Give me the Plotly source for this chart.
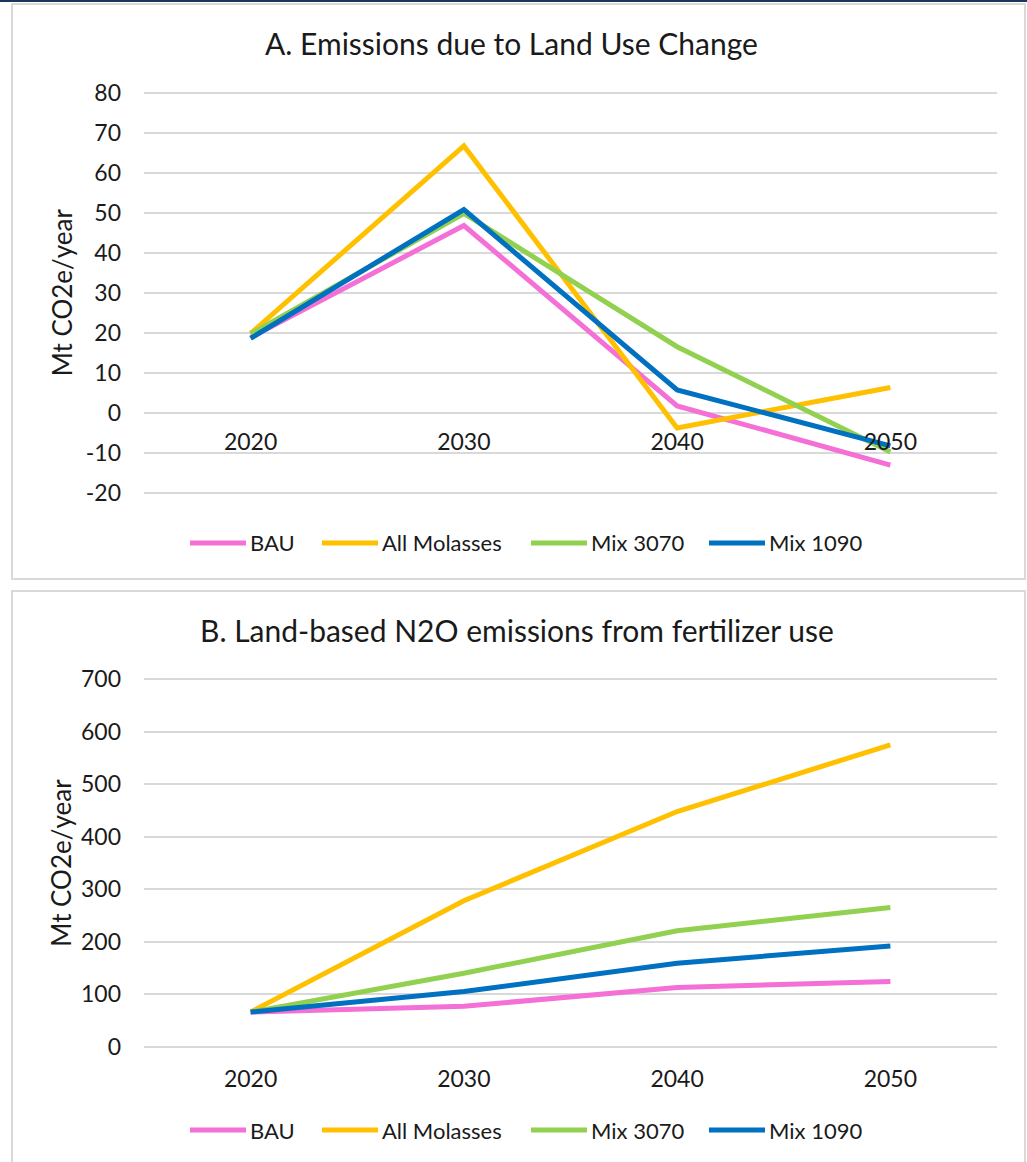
import plotly.graph_objects as go

years = ["2020", "2030", "2040", "2050"]
series_names = ["BAU", "All Molasses", "Mix 3070", "Mix 1090"]
colors = ["#F46FD6", "#FFC000", "#92D050", "#0070C0"]

# Panel A: Emissions due to Land Use Change (Mt CO2e/year)
luc_bau = [18.8, 46.8, 1.7, -13.1]
luc_molasses = [19.8, 66.7, -3.8, 6.3]
luc_mix3070 = [19.7, 49.8, 16.5, -9.8]
luc_mix1090 = [18.6, 50.8, 5.7, -8.3]
luc_ticks = [-20, -10, 0, 10, 20, 30, 40, 50, 60, 70, 80]
luc_ticktext = ["-20", "-10", "0", "10", "20", "30", "40", "50", "60", "70", "80"]

# Panel B: Land-based N2O emissions from fertilizer use (Mt CO2e/year)
n2o_bau = [66, 77, 113, 124]
n2o_molasses = [66, 278, 448, 575]
n2o_mix3070 = [66, 140, 221, 265]
n2o_mix1090 = [66, 105, 159, 192]
n2o_ticks = [0, 100, 200, 300, 400, 500, 600, 700]

title_a = "A. Emissions due to Land Use Change"
title_b = "B. Land-based N2O emissions from fertilizer use"
y_title = "Mt CO2e/year"

W, H = 1027, 1162
FONT = "Lato"
TXT = "#1a1a1a"
GRID = "#D9D9D9"


def py(px):
    return 1 - px / H


def pxx(px):
    return px / W


fig = go.Figure()

luc = [luc_bau, luc_molasses, luc_mix3070, luc_mix1090]
n2o = [n2o_bau, n2o_molasses, n2o_mix3070, n2o_mix1090]

LW = 5
for name, col, vals in zip(series_names, colors, luc):
    fig.add_trace(go.Scatter(x=years, y=vals, name=name, mode="lines",
                             line=dict(color=col, width=LW), showlegend=False,
                             xaxis="x", yaxis="y"))
for name, col, vals in zip(series_names, colors, n2o):
    fig.add_trace(go.Scatter(x=years, y=vals, name=name, mode="lines",
                             line=dict(color=col, width=LW), showlegend=False,
                             xaxis="x2", yaxis="y2"))

xdom = [pxx(144), pxx(997)]
TICK = 23

shapes = [
    dict(type="line", xref="paper", yref="paper", x0=0, x1=1, y0=py(1), y1=py(1),
         line=dict(color="#17375E", width=2)),
    dict(type="rect", xref="paper", yref="paper", x0=pxx(12), x1=pxx(1025),
         y0=py(579), y1=py(4), line=dict(color=GRID, width=2)),
    dict(type="rect", xref="paper", yref="paper", x0=pxx(12), x1=pxx(1025),
         y0=py(1175), y1=py(591), line=dict(color=GRID, width=2)),
]
annotations = [
    dict(text=title_a, x=pxx(511), y=py(43), xref="paper", yref="paper",
         showarrow=False, font=dict(size=30, color=TXT), xanchor="center", yanchor="middle"),
    dict(text=title_b, x=pxx(517), y=py(630), xref="paper", yref="paper",
         showarrow=False, font=dict(size=30, color=TXT), xanchor="center", yanchor="middle"),
]

# legend entries (symbol line + label) for each panel
legend_starts = [190, 322, 531, 709]
SYM_LEN = 56
for ly in (543, 1130):
    for name, col, x0 in zip(series_names, colors, legend_starts):
        shapes.append(dict(type="line", xref="paper", yref="paper",
                           x0=pxx(x0), x1=pxx(x0 + SYM_LEN), y0=py(ly), y1=py(ly),
                           line=dict(color=col, width=LW)))
        annotations.append(dict(text=name, x=pxx(x0 + SYM_LEN + 2), y=py(ly),
                                xref="paper", yref="paper", showarrow=False,
                                xanchor="left", yanchor="middle",
                                font=dict(size=22, color=TXT)))

fig.update_layout(
    width=W, height=H,
    margin=dict(l=0, r=0, t=0, b=0, autoexpand=False),
    paper_bgcolor="white", plot_bgcolor="white",
    font=dict(family=FONT, color=TXT, size=20),
    showlegend=False,
    xaxis=dict(domain=xdom, type="category", range=[-0.5, 3.5],
               anchor="free", position=py(412.7), automargin=False,
               showgrid=False, zeroline=False, showline=False,
               ticks="", ticklabelstandoff=13,
               tickfont=dict(size=TICK, color=TXT)),
    yaxis=dict(domain=[py(496.7), py(88.7)], range=[-21, 81], automargin=False,
               tickvals=luc_ticks, ticktext=luc_ticktext,
               showgrid=True, gridcolor=GRID, gridwidth=1.5,
               zeroline=True, zerolinecolor=GRID, zerolinewidth=1.5,
               showline=False, ticks="", ticklabelstandoff=22,
               tickfont=dict(size=TICK, color=TXT),
               title=dict(text=y_title, font=dict(size=26, color=TXT), standoff=5)),
    xaxis2=dict(domain=xdom, type="category", range=[-0.5, 3.5],
                anchor="y2", automargin=False,
                showgrid=False, zeroline=False, showline=False,
                ticks="", ticklabelstandoff=11,
                tickfont=dict(size=TICK, color=TXT)),
    yaxis2=dict(domain=[py(1051.95), py(674.05)], range=[-10, 710],
                anchor="x2", automargin=False,
                tickvals=n2o_ticks,
                showgrid=True, gridcolor=GRID, gridwidth=1.5,
                zeroline=True, zerolinecolor=GRID, zerolinewidth=1.5,
                showline=False, ticks="", ticklabelstandoff=22,
                tickfont=dict(size=TICK, color=TXT),
                title=dict(text=y_title, font=dict(size=26, color=TXT), standoff=1)),
    annotations=annotations,
    shapes=shapes,
)

fig.write_html("out.html", config={"displayModeBar": False},
               post_script="document.body.style.margin='0';document.body.style.overflow='hidden';")
